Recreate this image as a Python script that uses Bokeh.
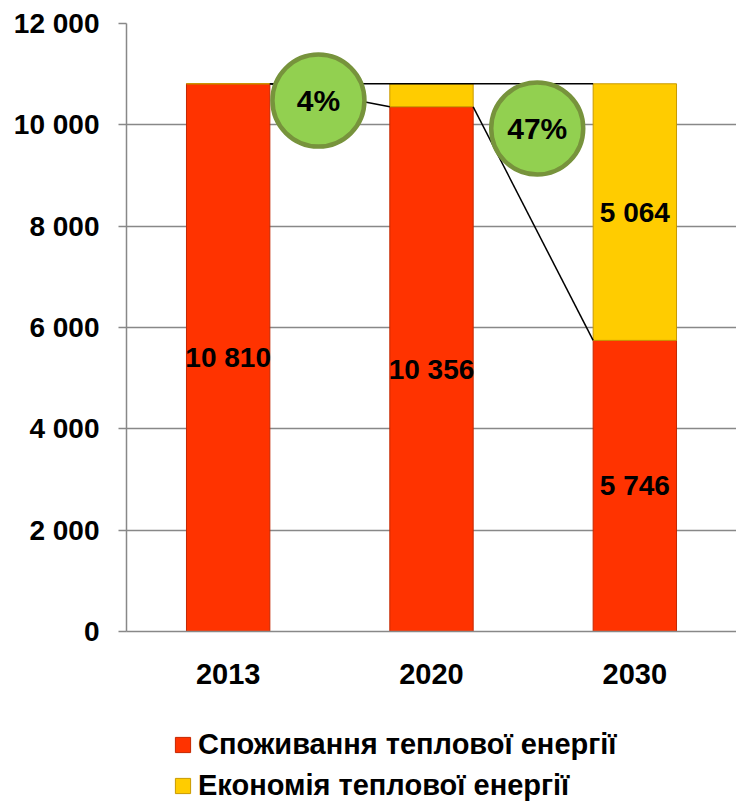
from bokeh.plotting import figure
from bokeh.layouts import column
from bokeh.models import (ColumnDataSource, Legend, LegendItem, FixedTicker,
                          Range1d, FactorRange)
from bokeh.core.properties import value
from bokeh.embed import file_html
from bokeh.resources import INLINE

# ---- data ----
years = ["2013", "2020", "2030"]
consumption = [10810, 10356, 5746]
savings = [0, 454, 5064]
consumption_labels = ["10 810", "10 356", "5 746"]
savings_labels = ["", "", "5 064"]
y_ticks = [0, 2000, 4000, 6000, 8000, 10000, 12000]
y_tick_labels = ["0", "2 000", "4 000", "6 000", "8 000", "10 000", "12 000"]
pct_labels = ["4%", "47%"]
series_names = ["Споживання теплової енергії", "Економія теплової енергії"]

# ---- layout / style constants ----
FONT = "Liberation Sans"
RED = "#FF3300"
RED_EDGE = "#C42700"
YELLOW = "#FFCC00"
YELLOW_EDGE = "#C99A00"
GRID = "#888888"
BW = 0.41
bubble_x = [0.944, 2.02]
bubble_y = [10480, 9928]

totals = [c + s for c, s in zip(consumption, savings)]
src = ColumnDataSource(dict(
    x=years,
    c=consumption,
    tot=totals,
    c_mid=[c / 2 for c in consumption],
    s_mid=[c + s / 2 for c, s in zip(consumption, savings)],
    clab=consumption_labels,
    slab=savings_labels,
))

p = figure(x_range=FactorRange(*years), y_range=Range1d(0, 12000),
           width=736, height=700, output_backend="svg", toolbar_location=None,
           min_border_left=126, min_border_right=0, min_border_top=23,
           min_border_bottom=69)
p.outline_line_color = None
p.background_fill_color = "white"

# bars
r1 = p.vbar(x="x", bottom=0, top="c", width=BW, source=src,
            fill_color=RED, line_color=RED_EDGE, line_width=1)
r2 = p.vbar(x="x", bottom="c", top="tot", width=BW, source=src,
            fill_color=YELLOW, line_color=YELLOW_EDGE, line_width=1)

# connecting lines (synthetic categorical coordinates: centers at 0.5, 1.5, 2.5)
centers = [0.5, 1.5, 2.5]
p.line(x=[centers[0] + BW / 2, centers[2] - BW / 2], y=[totals[0], totals[0]],
       line_color="black", line_width=1.5)
p.line(x=[centers[0] + BW / 2, centers[1] - BW / 2], y=[consumption[0], consumption[1]],
       line_color="black", line_width=1.5)
p.line(x=[centers[1] + BW / 2, centers[2] - BW / 2], y=[consumption[1], consumption[2]],
       line_color="black", line_width=1.5)

# value labels
p.text(x="x", y="c_mid", text="clab", source=src, text_align="center",
       text_baseline="middle", text_font=value(FONT), text_font_style="bold",
       text_font_size="28px", text_color="black")
p.text(x="x", y="s_mid", text="slab", source=src, text_align="center",
       text_baseline="middle", text_font=value(FONT), text_font_style="bold",
       text_font_size="28px", text_color="black")

# percentage bubbles
p.scatter(x=bubble_x, y=bubble_y, marker="circle", size=92,
          fill_color="#92D050", line_color="#77933C", line_width=4.5)
p.text(x=bubble_x, y=bubble_y, text=pct_labels, text_align="center",
       text_baseline="middle", text_font=value(FONT), text_font_style="bold",
       text_font_size="30px", text_color="black")

# axes
p.yaxis.ticker = FixedTicker(ticks=y_ticks)
p.yaxis.major_label_overrides = {t: l for t, l in zip(y_ticks, y_tick_labels)}
p.yaxis.major_tick_out = 8
p.yaxis.major_tick_in = 0
p.yaxis.minor_tick_line_color = None
p.yaxis.axis_line_color = GRID
p.yaxis.major_tick_line_color = GRID
p.yaxis.axis_line_width = 1.5
p.yaxis.major_tick_line_width = 1.5
p.yaxis.major_label_standoff = 19
p.yaxis.major_label_text_font = FONT
p.yaxis.major_label_text_font_style = "bold"
p.yaxis.major_label_text_font_size = "28px"
p.yaxis.major_label_text_color = "black"

p.xaxis.major_tick_line_color = None
p.xaxis.axis_line_color = GRID
p.xaxis.axis_line_width = 1.5
p.xaxis.major_label_standoff = 26
p.xaxis.major_label_text_font = FONT
p.xaxis.major_label_text_font_style = "bold"
p.xaxis.major_label_text_font_size = "29px"
p.xaxis.major_label_text_color = "black"

p.xgrid.grid_line_color = None
p.ygrid.grid_line_color = GRID
p.ygrid.grid_line_width = 1.5

# ---- legend strip below the chart (frame aligned with the chart's frame) ----
lg = figure(width=736, height=102, x_range=Range1d(0, 1), y_range=Range1d(0, 1),
            output_backend="svg", toolbar_location=None,
            min_border_left=126, min_border_right=0, min_border_top=0,
            min_border_bottom=0)
lg.axis.visible = False
lg.grid.visible = False
lg.outline_line_color = None
# key swatches only (placed outside the visible range)
k1 = lg.vbar(x=[-5], top=[-5], bottom=[-6], width=1, fill_color=RED, line_color=RED_EDGE)
k2 = lg.vbar(x=[-5], top=[-5], bottom=[-6], width=1, fill_color=YELLOW, line_color=YELLOW_EDGE)

legend = Legend(items=[LegendItem(label=series_names[0], renderers=[k1]),
                       LegendItem(label=series_names[1], renderers=[k2])],
                orientation="vertical", location=(47, 0))
legend.label_text_font = FONT
legend.label_text_font_style = "bold"
legend.label_text_font_size = "29px"
legend.label_text_color = "black"
legend.glyph_width = 19
legend.glyph_height = 19
legend.label_height = 32
legend.label_standoff = 6
legend.spacing = 8
legend.padding = 0
legend.margin = 0
legend.border_line_color = None
legend.background_fill_alpha = 0
lg.add_layout(legend, "center")

open("out.html", "w").write(file_html(column(p, lg), INLINE))
